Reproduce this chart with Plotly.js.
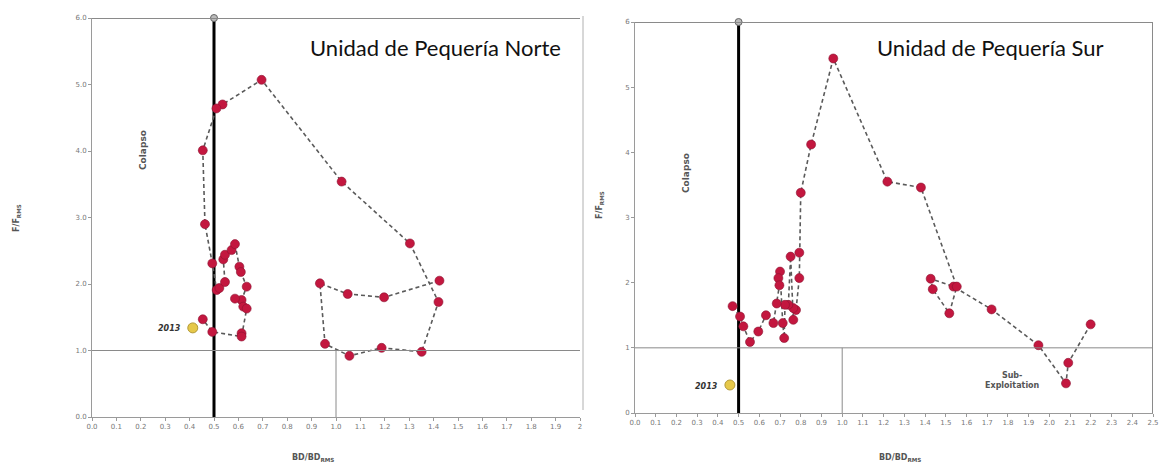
<!DOCTYPE html>
<html><head><meta charset="utf-8">
<script src="https://cdn.plot.ly/plotly-3.0.1.min.js"></script>
<style>html,body{margin:0;padding:0;background:#fff}#chart{width:1160px;height:466px}</style>
</head><body><div id="chart"></div>
<script>
// Unidad de Pequería Norte (chronological path, ending in 2013)
const norteBD = [1.424,1.197,1.048,0.934,0.955,1.055,1.187,1.351,1.42,1.303,1.023,0.695,0.535,0.51,0.454,0.463,0.493,0.511,0.522,0.545,0.538,0.545,0.572,0.586,0.604,0.61,0.634,0.613,0.586,0.62,0.634,0.613,0.613,0.493,0.454];
const norteF  = [2.05,1.80,1.85,2.01,1.10,0.92,1.04,0.98,1.73,2.61,3.54,5.07,4.70,4.64,4.01,2.90,2.31,1.91,1.94,2.03,2.37,2.44,2.51,2.60,2.26,2.18,1.96,1.76,1.78,1.66,1.63,1.26,1.21,1.28,1.47];
const norte2013 = {bd:[0.413], f:[1.34]};
// Unidad de Pequería Sur
const surBD = [2.199,2.091,2.08,1.947,1.721,1.537,1.427,1.437,1.517,1.553,1.38,1.218,0.957,0.85,0.80,0.793,0.793,0.777,0.764,0.764,0.751,0.74,0.724,0.72,0.713,0.70,0.692,0.697,0.684,0.668,0.632,0.595,0.555,0.523,0.507,0.471];
const surF  = [1.36,0.77,0.455,1.04,1.59,1.94,2.06,1.90,1.53,1.94,3.46,3.55,5.44,4.12,3.38,2.46,2.07,1.58,1.61,1.43,2.40,1.66,1.66,1.15,1.38,2.17,2.07,1.96,1.68,1.38,1.50,1.25,1.09,1.33,1.48,1.64];
const sur2013 = {bd:[0.458], f:[0.43]};
// reference points
const limitBD = 0.5, refBD = 1.0, refF = 1.0;
const limitTopF = 6;
const titles = ["Unidad de Pequería Norte","Unidad de Pequería Sur"];
const xTickNorte = ["0.0","0.1","0.2","0.3","0.4","0.5","0.6","0.7","0.8","0.9","1.0","1.1","1.2","1.3","1.4","1.5","1.6","1.7","1.8","1.9","2"];
const xTickSur = ["0.0","0.1","0.2","0.3","0.4","0.5","0.6","0.7","0.8","0.9","1.0","1.1","1.2","1.3","1.4","1.5","1.6","1.7","1.8","1.9","2.0","2.1","2.2","2.3","2.4","2.5"];

const red = '#c3173f', redEdge = '#8c1432';
function series(x,y,xa,ya){
  return {x:x,y:y,xaxis:xa,yaxis:ya,type:'scatter',mode:'lines+markers',
    line:{color:'#5a5a5a',width:1.6,dash:'4px,3px'},
    marker:{size:9,color:red,line:{color:redEdge,width:0.6}},hoverinfo:'skip',showlegend:false};
}
function yellow(p,xa,ya){
  return {x:p.bd,y:p.f,xaxis:xa,yaxis:ya,type:'scatter',mode:'markers',
    marker:{size:10,color:'#e6c84a',line:{color:'#b39a3a',width:1}},showlegend:false};
}
function limit(xa,ya){
  return {x:[limitBD,limitBD],y:[0,limitTopF],xaxis:xa,yaxis:ya,type:'scatter',mode:'lines',
    line:{color:'#000',width:3},showlegend:false};
}
function topMark(xa,ya){
  return {x:[limitBD],y:[limitTopF],xaxis:xa,yaxis:ya,type:'scatter',mode:'markers',
    marker:{size:7,color:'#bbb',line:{color:'#666',width:1}},showlegend:false,cliponaxis:false};
}
const data = [
  limit('x','y'), series(norteBD,norteF,'x','y'), yellow(norte2013,'x','y'), topMark('x','y'),
  limit('x2','y2'), series(surBD,surF,'x2','y2'), yellow(sur2013,'x2','y2'), topMark('x2','y2')
];
const tickFont = {family:'DejaVu Sans, sans-serif',size:7,color:'#777'};
const axBase = {showgrid:false,zeroline:false,showline:true,linecolor:'#9a9a9a',linewidth:1,
  ticks:'outside',ticklen:3,tickcolor:'#9a9a9a',tickfont:tickFont,fixedrange:true};
function ann(text,px,py,size,color,extra){
  return Object.assign({text:text,xref:'paper',yref:'paper',x:px/1160,y:(466-py)/466,
    xanchor:'center',yanchor:'middle',showarrow:false,
    font:{family:'DejaVu Sans, sans-serif',size:size,color:color}},extra||{});
}
const layout = {
  width:1160,height:466,margin:{l:0,r:0,t:0,b:0},paper_bgcolor:'#fff',plot_bgcolor:'#fff',
  showlegend:false,
  xaxis:Object.assign({},axBase,{domain:[92/1160,580/1160],range:[0,2.0],anchor:'y',
    tickvals:xTickNorte.map((t,i)=>i/10),ticktext:xTickNorte}),
  yaxis:Object.assign({},axBase,{domain:[(466-417)/466,(466-18)/466],range:[0,6],anchor:'x',
    dtick:1,tickformat:'.1f'}),
  xaxis2:Object.assign({},axBase,{domain:[635/1160,1153/1160],range:[0,2.5],anchor:'y2',
    tickvals:xTickSur.map((t,i)=>i/10),ticktext:xTickSur}),
  yaxis2:Object.assign({},axBase,{domain:[(466-413)/466,(466-22)/466],range:[0,6],anchor:'x2',
    dtick:1,tickformat:'d'}),
  shapes:[
    {type:'line',xref:'x',yref:'y',x0:0,x1:2.0,y0:refF,y1:refF,line:{color:'#8a8a8a',width:1}},
    {type:'line',xref:'x',yref:'y',x0:refBD,x1:refBD,y0:0,y1:refF,line:{color:'#8a8a8a',width:1}},
    {type:'line',xref:'x',yref:'y',x0:0,x1:2.0,y0:6,y1:6,line:{color:'#8a8a8a',width:2}},
    {type:'line',xref:'x2',yref:'y2',x0:0,x1:2.5,y0:refF,y1:refF,line:{color:'#8a8a8a',width:1}},
    {type:'line',xref:'x2',yref:'y2',x0:refBD,x1:refBD,y0:0,y1:refF,line:{color:'#8a8a8a',width:1}},
    {type:'line',xref:'x2',yref:'y2',x0:0,x1:2.5,y0:6,y1:6,line:{color:'#8a8a8a',width:2}},
    {type:'line',xref:'x2',yref:'y2',x0:2.5,x1:2.5,y0:0,y1:6,line:{color:'#8a8a8a',width:2}},
    {type:'line',xref:'paper',yref:'paper',x0:583/1160,x1:583/1160,y0:(466-410)/466,y1:(466-16)/466,line:{color:'#b0b0b0',width:1}}
  ],
  annotations:[
    ann(titles[0],435,48,22,'#111',{font:{family:'Lato, sans-serif',size:22,color:'#111'}}),
    ann(titles[1],990,48,22,'#111',{font:{family:'Lato, sans-serif',size:22,color:'#111'}}),
    ann('<b>F/F<sub>RMS</sub></b>',17,218,8,'#555',{textangle:-90}),
    ann('<b>F/F<sub>RMS</sub></b>',600,205,8,'#555',{textangle:-90}),
    ann('<b>BD/BD<sub>RMS</sub></b>',313,458,8,'#555'),
    ann('<b>BD/BD<sub>RMS</sub></b>',900,458,8,'#555'),
    ann('<b>Colapso</b>',143,150,9,'#555',{textangle:-90}),
    ann('<b>Colapso</b>',686,173,9,'#555',{textangle:-90}),
    ann('<b><i>2013</i></b>',170,328,8,'#333'),
    ann('<b><i>2013</i></b>',706,386,8,'#333'),
    ann('<b>Sub-<br>Exploitation</b>',1012,380,8,'#555')
  ]
};
Plotly.newPlot('chart',data,layout,{staticPlot:true,displayModeBar:false});
</script></body></html>
